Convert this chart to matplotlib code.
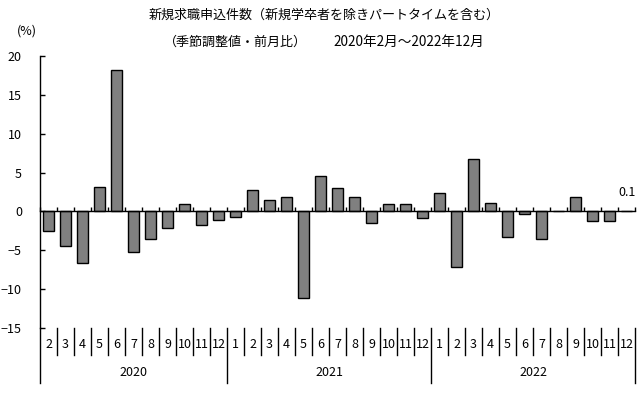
import matplotlib
matplotlib.use('Agg')
import matplotlib.pyplot as plt
import matplotlib.transforms as mtransforms
import numpy as np

plt.rcParams['font.family'] = ['Noto Sans CJK JP', 'DejaVu Sans']

# ---- data ----
years = ['2020', '2021', '2022']
months_2020 = ['2', '3', '4', '5', '6', '7', '8', '9', '10', '11', '12']
months_2021 = ['1', '2', '3', '4', '5', '6', '7', '8', '9', '10', '11', '12']
months_2022 = ['1', '2', '3', '4', '5', '6', '7', '8', '9', '10', '11', '12']
values_2020 = [-2.5, -4.4, -6.6, 3.2, 18.2, -5.2, -3.5, -2.1, 0.9, -1.7, -1.1]
values_2021 = [-0.7, 2.7, 1.5, 1.9, -11.1, 4.6, 3.0, 1.8, -1.5, 1.0, 1.0, -0.9]
values_2022 = [2.4, -7.2, 6.7, 1.1, -3.3, -0.3, -3.6, 0.0, 1.8, -1.2, -1.2, 0.1]
y_ticks = [-15, -10, -5, 0, 5, 10, 15, 20]

title1 = '新規求職申込件数（新規学卒者を除きパートタイムを含む）'
title2a = '（季節調整値・前月比）'
title2b = '2020年2月～2022年12月'
unit_label = '(%)'

month_groups = [months_2020, months_2021, months_2022]
value_groups = [values_2020, values_2021, values_2022]
month_labels = [m for g in month_groups for m in g]
values = [v for g in value_groups for v in g]
n = len(values)
x = np.arange(n)

W, H = 643, 397
fig = plt.figure(figsize=(W / 100, H / 100), dpi=100)
ax = fig.add_axes([40 / W, 69 / H, 595 / W, 272 / H])

ax.bar(x, values, width=0.7, color='#808080', edgecolor='black',
       linewidth=1.0, zorder=3)

ax.set_xlim(-0.5, n - 0.5)
ax.set_ylim(y_ticks[0], y_ticks[-1])
ax.set_yticks(y_ticks)
ax.tick_params(axis='y', direction='in', length=3.6, width=1.0, pad=13,
               labelsize=9, colors='black')

for s in ['top', 'right']:
    ax.spines[s].set_visible(False)
ax.spines['bottom'].set_position(('data', 0))
ax.spines['bottom'].set_zorder(4)
for s in ['left', 'bottom']:
    ax.spines[s].set_linewidth(1.0)

ax.set_xticks(np.arange(-0.5, n, 1.0))
ax.tick_params(axis='x', direction='in', length=3, width=1.0,
               labelbottom=False)

trans = mtransforms.blended_transform_factory(ax.transData, ax.transAxes)

# category separators and labels
year_bounds = [0]
for g in month_groups:
    year_bounds.append(year_bounds[-1] + len(g))

for k in range(n + 1):
    b = k - 0.5
    y_end = -0.202 if k in year_bounds else -0.0993
    ax.plot([b, b], [0, y_end], transform=trans, clip_on=False,
            color='black', lw=1.0)

for i, m in enumerate(month_labels):
    ax.text(i, -0.0625, m, transform=trans, ha='center', va='center',
            fontsize=9)

for j, yr in enumerate(years):
    c = (year_bounds[j] + year_bounds[j + 1] - 1) / 2
    ax.text(c, -0.162, yr, transform=trans, ha='center', va='center',
            fontsize=9)

# data label for last value
ax.annotate(f'{values[-1]:.1f}', (x[-1], values[-1]), xytext=(1, 18),
            textcoords='offset pixels', ha='center', va='center',
            fontsize=9)

fig.text(27 / W, 1 - 31 / H, unit_label, ha='center', va='center', fontsize=9)
fig.text(324 / W, 1 - 15 / H, title1, ha='center', va='center', fontsize=9.4)
fig.text(307 / W, 1 - 42 / H, title2a, ha='right', va='center', fontsize=9.4)
fig.text(333 / W, 1 - 42 / H, title2b, ha='left', va='center', fontsize=9.8)

fig.savefig('out.png', dpi=100)
